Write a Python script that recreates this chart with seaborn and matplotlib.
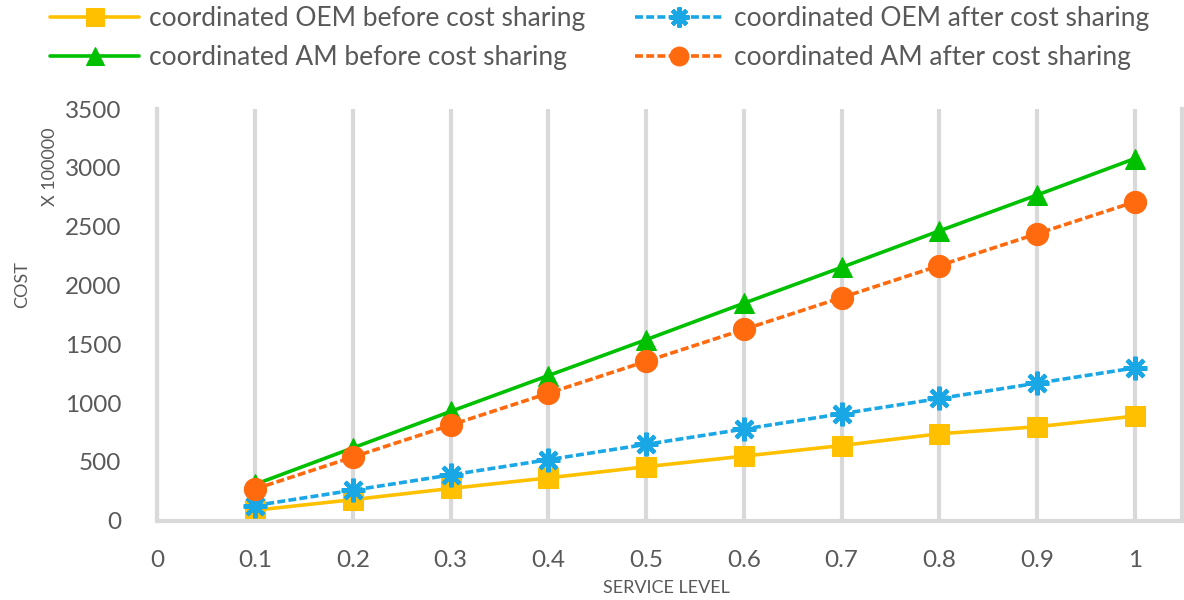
import matplotlib
matplotlib.use("Agg")
import matplotlib.pyplot as plt
import seaborn as sns
import pandas as pd

service_level = [0.1, 0.2, 0.3, 0.4, 0.5, 0.6, 0.7, 0.8, 0.9, 1.0]
oem_before = [90, 180, 275, 365, 460, 550, 640, 740, 800, 890]
am_before = [310, 620, 930, 1235, 1540, 1850, 2155, 2465, 2770, 3080]
oem_after = [130, 260, 390, 520, 650, 780, 910, 1040, 1170, 1300]
am_after = [271, 542, 814, 1085, 1356, 1627, 1898, 2170, 2441, 2712]
x_ticks = [0, 0.1, 0.2, 0.3, 0.4, 0.5, 0.6, 0.7, 0.8, 0.9, 1.0]
x_tick_labels = ["0", "0.1", "0.2", "0.3", "0.4", "0.5", "0.6", "0.7", "0.8", "0.9", "1"]
y_ticks = [0, 500, 1000, 1500, 2000, 2500, 3000, 3500]

sns.set_theme(style="white")
plt.rcParams['font.family'] = ['Lato', 'DejaVu Sans']
txt = '#595959'
grid = '#D9D9D9'

fig = plt.figure(figsize=(11.84, 6.0), dpi=100)
ax = fig.add_axes([0.133, 0.132, 0.865, 0.686])

series = [
    ("coordinated OEM before cost sharing", oem_before, '#FFC000', 's', '-', 15, {}),
    ("coordinated AM before cost sharing", am_before, '#00C000', '^', '-', 15, {}),
    ("coordinated OEM after cost sharing", oem_after, '#1AA7E6', (8, 2, 0), (0, (2.2, 0.9)), 17, {'markeredgewidth': 3}),
    ("coordinated AM after cost sharing", am_after, '#FF6A0E', 'o', (0, (2.2, 0.9)), 16, {}),
]
handles = {}
for name, vals, col, mk, ls, ms, extra in series:
    df = pd.DataFrame({"x": service_level, "y": vals})
    sns.lineplot(data=df, x="x", y="y", ax=ax, color=col, marker=mk, linestyle=ls,
                 linewidth=2.6, markersize=ms, markeredgecolor=col, markerfacecolor=col,
                 label=name, **extra)
    handles[name] = ax.lines[-1]

if ax.get_legend():
    ax.get_legend().remove()

ax.set_xlim(0, 1.048)
ax.set_ylim(0, 3500)
ax.set_xticks(x_ticks)
ax.set_xticklabels(x_tick_labels)
ax.set_yticks(y_ticks)
ax.tick_params(axis='both', length=0, labelsize=17.5, colors=txt)
ax.tick_params(axis='x', pad=21)
ax.tick_params(axis='y', pad=26)
ax.set_xlabel("")
ax.set_ylabel("")
ax.set_axisbelow(True)
ax.grid(axis='x', color=grid, linewidth=3)
ax.grid(axis='y', visible=False)
for s in ['left', 'bottom', 'right']:
    ax.spines[s].set_color(grid)
    ax.spines[s].set_linewidth(3)
ax.spines['top'].set_visible(False)

fig.text(0.563, 0.02, "SERVICE LEVEL", ha='center', va='center', fontsize=13, color=txt)
fig.text(0.019, 0.525, "COST", ha='center', va='center', rotation=90, fontsize=13, color=txt)
fig.text(0.042, 0.722, "X 100000", ha='center', va='center', rotation=90, fontsize=13, color=txt)

cols = [
    (["coordinated OEM before cost sharing", "coordinated AM before cost sharing"], 0.042),
    (["coordinated OEM after cost sharing", "coordinated AM after cost sharing"], 0.536),
]
for names, xpos in cols:
    leg = fig.legend([handles[n] for n in names], names, ncol=1, loc='upper left',
                     bbox_to_anchor=(xpos, 0.990), frameon=False, fontsize=19,
                     handlelength=3.4, handletextpad=0.38, labelspacing=0.53,
                     borderpad=0, borderaxespad=0, markerscale=0.85)
    for t in leg.get_texts():
        t.set_color(txt)

fig.savefig("out.png", dpi=100)
